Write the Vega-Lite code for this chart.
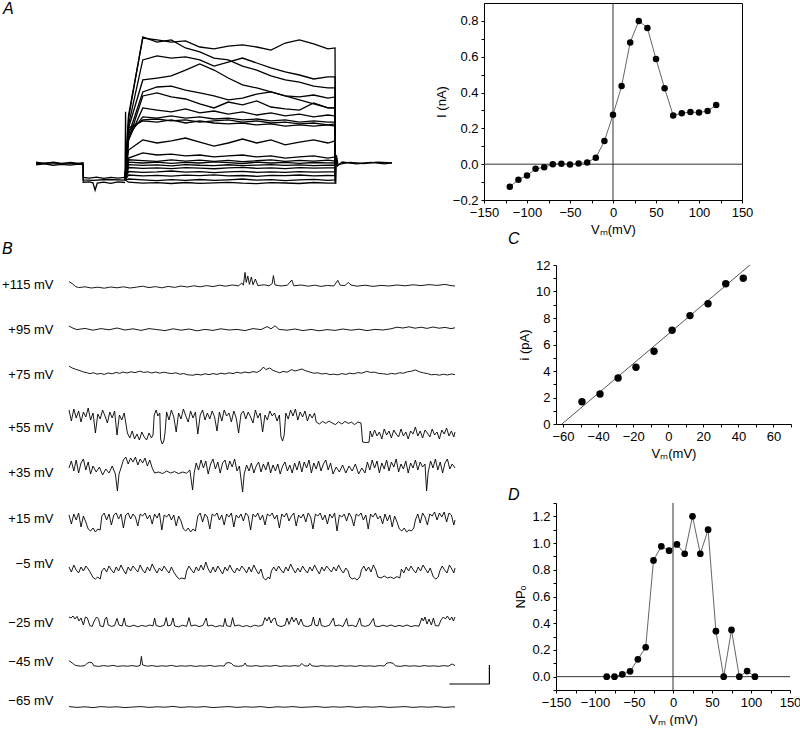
{
"$schema":"https://vega.github.io/schema/vega-lite/v6.json",
"padding":{"left":0,"top":1,"right":0,"bottom":0},
"config":{"font":"Liberation Sans","view":{"stroke":null},
"axis":{"labelFont":"Liberation Sans","titleFont":"Liberation Sans","labelFontSize":13,"titleFontSize":13,"titleFontWeight":"normal","labelColor":"#000","titleColor":"#000","domainColor":"#000","tickColor":"#000","grid":false,"tickSize":3,"labelFlush":false,"labelOverlap":false,"labelPadding":3},
"title":{"font":"Liberation Sans","fontSize":16,"fontStyle":"italic","fontWeight":"normal","anchor":"start","frame":"group","offset":4,"color":"#000"}},
"datasets":{
"ta":[
{"k":21,"t":0,"v":0.005},{"k":21,"t":12,"v":-0.003},{"k":21,"t":24,"v":0.006},{"k":21,"t":36,"v":-0.002},{"k":21,"t":48,"v":0.004},{"k":21,"t":60,"v":-0.003},{"k":21,"t":66,"v":0.002},{"k":21,"t":66.3,"v":-0.09},{"k":21,"t":75,"v":-0.094},{"k":21,"t":85,"v":-0.088},{"k":21,"t":95,"v":-0.096},{"k":21,"t":105,"v":-0.09},{"k":21,"t":115,"v":-0.095},{"k":21,"t":125,"v":-0.09},
{"k":22,"t":0,"v":-0.012},{"k":22,"t":12,"v":-0.006},{"k":22,"t":24,"v":-0.014},{"k":22,"t":36,"v":-0.008},{"k":22,"t":48,"v":-0.013},{"k":22,"t":60,"v":-0.007},{"k":22,"t":66,"v":-0.01},{"k":22,"t":66.3,"v":-0.12},{"k":22,"t":75,"v":-0.118},{"k":22,"t":80,"v":-0.124},{"k":22,"t":83,"v":-0.17},{"k":22,"t":86,"v":-0.125},{"k":22,"t":95,"v":-0.12},{"k":22,"t":105,"v":-0.127},{"k":22,"t":115,"v":-0.118},{"k":22,"t":125,"v":-0.122},
{"k":23,"t":0,"v":-0.004},{"k":23,"t":20,"v":0.001},{"k":23,"t":40,"v":-0.005},{"k":23,"t":66,"v":-0.002},{"k":23,"t":66.3,"v":-0.105},{"k":23,"t":80,"v":-0.108},{"k":23,"t":100,"v":-0.103},{"k":23,"t":125,"v":-0.107},
{"k":24,"t":420.5,"v":0},{"k":24,"t":421,"v":-0.13},{"k":24,"t":422,"v":0.05},{"k":24,"t":424,"v":-0.01},{"k":24,"t":440,"v":0.004},{"k":24,"t":460,"v":-0.003},{"k":24,"t":480,"v":0.005},{"k":24,"t":500,"v":0},
{"k":25,"t":420.5,"v":0.01},{"k":25,"t":423,"v":-0.02},{"k":25,"t":430,"v":0.006},{"k":25,"t":450,"v":-0.006},{"k":25,"t":470,"v":0.004},{"k":25,"t":490,"v":-0.005},{"k":25,"t":500,"v":0.002},
{"k":26,"t":125,"v":-0.1},{"k":26,"t":125.8,"v":0.32},{"k":26,"t":126.5,"v":-0.06},{"k":26,"t":127.5,"v":-0.02},
{"k":1,"t":125,"v":-0.105},{"k":1,"t":130,"v":0.3},{"k":1,"t":150,"v":0.781},{"k":1,"t":170,"v":0.769},{"k":1,"t":190,"v":0.756},{"k":1,"t":210,"v":0.763},{"k":1,"t":230,"v":0.725},{"k":1,"t":250,"v":0.713},{"k":1,"t":270,"v":0.731},{"k":1,"t":290,"v":0.738},{"k":1,"t":310,"v":0.725},{"k":1,"t":330,"v":0.706},{"k":1,"t":350,"v":0.75},{"k":1,"t":370,"v":0.769},{"k":1,"t":390,"v":0.744},{"k":1,"t":410,"v":0.713},{"k":1,"t":420,"v":0.719},{"k":1,"t":420.5,"v":0},
{"k":2,"t":125,"v":-0.105},{"k":2,"t":130,"v":0.281},{"k":2,"t":150,"v":0.788},{"k":2,"t":170,"v":0.756},{"k":2,"t":190,"v":0.769},{"k":2,"t":210,"v":0.719},{"k":2,"t":230,"v":0.694},{"k":2,"t":250,"v":0.656},{"k":2,"t":270,"v":0.644},{"k":2,"t":290,"v":0.606},{"k":2,"t":310,"v":0.581},{"k":2,"t":330,"v":0.544},{"k":2,"t":350,"v":0.519},{"k":2,"t":370,"v":0.506},{"k":2,"t":390,"v":0.481},{"k":2,"t":410,"v":0.469},{"k":2,"t":420,"v":0.469},{"k":2,"t":420.5,"v":0},
{"k":3,"t":125,"v":-0.105},{"k":3,"t":130,"v":0.238},{"k":3,"t":150,"v":0.644},{"k":3,"t":170,"v":0.669},{"k":3,"t":190,"v":0.656},{"k":3,"t":210,"v":0.663},{"k":3,"t":230,"v":0.644},{"k":3,"t":250,"v":0.606},{"k":3,"t":270,"v":0.631},{"k":3,"t":290,"v":0.656},{"k":3,"t":310,"v":0.625},{"k":3,"t":330,"v":0.594},{"k":3,"t":350,"v":0.569},{"k":3,"t":370,"v":0.55},{"k":3,"t":390,"v":0.525},{"k":3,"t":410,"v":0.538},{"k":3,"t":420,"v":0.538},{"k":3,"t":420.5,"v":0},
{"k":4,"t":125,"v":-0.105},{"k":4,"t":130,"v":0.219},{"k":4,"t":150,"v":0.519},{"k":4,"t":170,"v":0.531},{"k":4,"t":190,"v":0.544},{"k":4,"t":210,"v":0.581},{"k":4,"t":230,"v":0.619},{"k":4,"t":250,"v":0.581},{"k":4,"t":270,"v":0.531},{"k":4,"t":290,"v":0.488},{"k":4,"t":310,"v":0.469},{"k":4,"t":330,"v":0.444},{"k":4,"t":350,"v":0.419},{"k":4,"t":370,"v":0.394},{"k":4,"t":390,"v":0.369},{"k":4,"t":410,"v":0.344},{"k":4,"t":420,"v":0.344},{"k":4,"t":420.5,"v":0},
{"k":5,"t":125,"v":-0.105},{"k":5,"t":130,"v":0.175},{"k":5,"t":150,"v":0.444},{"k":5,"t":170,"v":0.475},{"k":5,"t":190,"v":0.481},{"k":5,"t":210,"v":0.456},{"k":5,"t":230,"v":0.438},{"k":5,"t":250,"v":0.419},{"k":5,"t":270,"v":0.394},{"k":5,"t":290,"v":0.406},{"k":5,"t":310,"v":0.431},{"k":5,"t":330,"v":0.444},{"k":5,"t":350,"v":0.419},{"k":5,"t":370,"v":0.413},{"k":5,"t":390,"v":0.425},{"k":5,"t":410,"v":0.406},{"k":5,"t":420,"v":0.413},{"k":5,"t":420.5,"v":0},
{"k":6,"t":125,"v":-0.105},{"k":6,"t":130,"v":0.144},{"k":6,"t":150,"v":0.419},{"k":6,"t":170,"v":0.438},{"k":6,"t":190,"v":0.413},{"k":6,"t":210,"v":0.4},{"k":6,"t":230,"v":0.369},{"k":6,"t":250,"v":0.344},{"k":6,"t":270,"v":0.381},{"k":6,"t":290,"v":0.363},{"k":6,"t":310,"v":0.388},{"k":6,"t":330,"v":0.35},{"k":6,"t":350,"v":0.338},{"k":6,"t":370,"v":0.331},{"k":6,"t":390,"v":0.375},{"k":6,"t":410,"v":0.344},{"k":6,"t":420,"v":0.344},{"k":6,"t":420.5,"v":0},
{"k":7,"t":125,"v":-0.105},{"k":7,"t":130,"v":0.144},{"k":7,"t":150,"v":0.344},{"k":7,"t":170,"v":0.331},{"k":7,"t":190,"v":0.319},{"k":7,"t":210,"v":0.338},{"k":7,"t":230,"v":0.313},{"k":7,"t":250,"v":0.325},{"k":7,"t":270,"v":0.306},{"k":7,"t":290,"v":0.319},{"k":7,"t":310,"v":0.3},{"k":7,"t":330,"v":0.313},{"k":7,"t":350,"v":0.294},{"k":7,"t":370,"v":0.306},{"k":7,"t":390,"v":0.288},{"k":7,"t":410,"v":0.3},{"k":7,"t":420,"v":0.294},{"k":7,"t":420.5,"v":0},
{"k":8,"t":125,"v":-0.105},{"k":8,"t":130,"v":0.175},{"k":8,"t":150,"v":0.288},{"k":8,"t":170,"v":0.281},{"k":8,"t":190,"v":0.294},{"k":8,"t":210,"v":0.281},{"k":8,"t":230,"v":0.288},{"k":8,"t":250,"v":0.275},{"k":8,"t":270,"v":0.281},{"k":8,"t":290,"v":0.269},{"k":8,"t":310,"v":0.275},{"k":8,"t":330,"v":0.263},{"k":8,"t":350,"v":0.269},{"k":8,"t":370,"v":0.256},{"k":8,"t":390,"v":0.263},{"k":8,"t":410,"v":0.256},{"k":8,"t":420,"v":0.256},{"k":8,"t":420.5,"v":0},
{"k":9,"t":125,"v":-0.105},{"k":9,"t":130,"v":0.206},{"k":9,"t":150,"v":0.269},{"k":9,"t":170,"v":0.275},{"k":9,"t":190,"v":0.263},{"k":9,"t":210,"v":0.269},{"k":9,"t":230,"v":0.256},{"k":9,"t":250,"v":0.263},{"k":9,"t":270,"v":0.269},{"k":9,"t":290,"v":0.256},{"k":9,"t":310,"v":0.263},{"k":9,"t":330,"v":0.25},{"k":9,"t":350,"v":0.256},{"k":9,"t":370,"v":0.244},{"k":9,"t":390,"v":0.25},{"k":9,"t":410,"v":0.238},{"k":9,"t":420,"v":0.244},{"k":9,"t":420.5,"v":0},
{"k":10,"t":125,"v":-0.105},{"k":10,"t":130,"v":0.219},{"k":10,"t":150,"v":0.263},{"k":10,"t":170,"v":0.256},{"k":10,"t":190,"v":0.269},{"k":10,"t":210,"v":0.25},{"k":10,"t":230,"v":0.263},{"k":10,"t":250,"v":0.25},{"k":10,"t":270,"v":0.244},{"k":10,"t":290,"v":0.25},{"k":10,"t":310,"v":0.238},{"k":10,"t":330,"v":0.244},{"k":10,"t":350,"v":0.231},{"k":10,"t":370,"v":0.238},{"k":10,"t":390,"v":0.231},{"k":10,"t":410,"v":0.238},{"k":10,"t":420,"v":0.231},{"k":10,"t":420.5,"v":0},
{"k":11,"t":125,"v":-0.105},{"k":11,"t":130,"v":0.081},{"k":11,"t":150,"v":0.144},{"k":11,"t":170,"v":0.125},{"k":11,"t":190,"v":0.138},{"k":11,"t":210,"v":0.156},{"k":11,"t":230,"v":0.131},{"k":11,"t":250,"v":0.106},{"k":11,"t":270,"v":0.125},{"k":11,"t":290,"v":0.15},{"k":11,"t":310,"v":0.125},{"k":11,"t":330,"v":0.144},{"k":11,"t":350,"v":0.113},{"k":11,"t":370,"v":0.131},{"k":11,"t":390,"v":0.144},{"k":11,"t":410,"v":0.125},{"k":11,"t":420,"v":0.138},{"k":11,"t":420.5,"v":0},
{"k":12,"t":125,"v":-0.105},{"k":12,"t":130,"v":0.031},{"k":12,"t":150,"v":0.063},{"k":12,"t":170,"v":0.05},{"k":12,"t":190,"v":0.056},{"k":12,"t":210,"v":0.044},{"k":12,"t":230,"v":0.05},{"k":12,"t":250,"v":0.038},{"k":12,"t":270,"v":0.044},{"k":12,"t":290,"v":0.05},{"k":12,"t":310,"v":0.038},{"k":12,"t":330,"v":0.044},{"k":12,"t":350,"v":0.031},{"k":12,"t":370,"v":0.038},{"k":12,"t":390,"v":0.044},{"k":12,"t":410,"v":0.031},{"k":12,"t":420,"v":0.038},{"k":12,"t":420.5,"v":0},
{"k":13,"t":125,"v":-0.105},{"k":13,"t":130,"v":0.02},{"k":13,"t":150,"v":0.015},{"k":13,"t":170,"v":0.01},{"k":13,"t":190,"v":0.02},{"k":13,"t":210,"v":0.012},{"k":13,"t":230,"v":0.018},{"k":13,"t":250,"v":0.01},{"k":13,"t":270,"v":0.016},{"k":13,"t":290,"v":0.008},{"k":13,"t":310,"v":0.014},{"k":13,"t":330,"v":0.02},{"k":13,"t":350,"v":0.01},{"k":13,"t":370,"v":0.016},{"k":13,"t":390,"v":0.012},{"k":13,"t":410,"v":0.018},{"k":13,"t":420,"v":0.012},{"k":13,"t":420.5,"v":0},
{"k":14,"t":125,"v":-0.105},{"k":14,"t":130,"v":0.005},{"k":14,"t":150,"v":0},{"k":14,"t":170,"v":0.006},{"k":14,"t":190,"v":-0.002},{"k":14,"t":210,"v":0.004},{"k":14,"t":230,"v":0},{"k":14,"t":250,"v":0.007},{"k":14,"t":270,"v":0.002},{"k":14,"t":290,"v":-0.003},{"k":14,"t":310,"v":0.005},{"k":14,"t":330,"v":0},{"k":14,"t":350,"v":0.004},{"k":14,"t":370,"v":-0.002},{"k":14,"t":390,"v":0.003},{"k":14,"t":410,"v":0.001},{"k":14,"t":420,"v":0},{"k":14,"t":420.5,"v":0},
{"k":15,"t":125,"v":-0.105},{"k":15,"t":130,"v":-0.01},{"k":15,"t":150,"v":-0.015},{"k":15,"t":170,"v":-0.012},{"k":15,"t":190,"v":-0.018},{"k":15,"t":210,"v":-0.01},{"k":15,"t":230,"v":-0.014},{"k":15,"t":250,"v":-0.016},{"k":15,"t":270,"v":-0.011},{"k":15,"t":290,"v":-0.017},{"k":15,"t":310,"v":-0.013},{"k":15,"t":330,"v":-0.01},{"k":15,"t":350,"v":-0.015},{"k":15,"t":370,"v":-0.012},{"k":15,"t":390,"v":-0.016},{"k":15,"t":410,"v":-0.013},{"k":15,"t":420,"v":-0.014},{"k":15,"t":420.5,"v":0},
{"k":16,"t":125,"v":-0.105},{"k":16,"t":130,"v":-0.028},{"k":16,"t":150,"v":-0.033},{"k":16,"t":170,"v":-0.03},{"k":16,"t":190,"v":-0.035},{"k":16,"t":210,"v":-0.029},{"k":16,"t":230,"v":-0.032},{"k":16,"t":250,"v":-0.036},{"k":16,"t":270,"v":-0.03},{"k":16,"t":290,"v":-0.027},{"k":16,"t":310,"v":-0.033},{"k":16,"t":330,"v":-0.031},{"k":16,"t":350,"v":-0.035},{"k":16,"t":370,"v":-0.029},{"k":16,"t":390,"v":-0.032},{"k":16,"t":410,"v":-0.03},{"k":16,"t":420,"v":-0.031},{"k":16,"t":420.5,"v":0},
{"k":17,"t":125,"v":-0.105},{"k":17,"t":130,"v":-0.053},{"k":17,"t":150,"v":-0.058},{"k":17,"t":170,"v":-0.055},{"k":17,"t":190,"v":-0.05},{"k":17,"t":210,"v":-0.057},{"k":17,"t":230,"v":-0.054},{"k":17,"t":250,"v":-0.06},{"k":17,"t":270,"v":-0.056},{"k":17,"t":290,"v":-0.052},{"k":17,"t":310,"v":-0.058},{"k":17,"t":330,"v":-0.055},{"k":17,"t":350,"v":-0.059},{"k":17,"t":370,"v":-0.054},{"k":17,"t":390,"v":-0.057},{"k":17,"t":410,"v":-0.055},{"k":17,"t":420,"v":-0.056},{"k":17,"t":420.5,"v":0},
{"k":18,"t":125,"v":-0.105},{"k":18,"t":130,"v":-0.075},{"k":18,"t":150,"v":-0.08},{"k":18,"t":170,"v":-0.077},{"k":18,"t":190,"v":-0.082},{"k":18,"t":210,"v":-0.076},{"k":18,"t":230,"v":-0.079},{"k":18,"t":250,"v":-0.074},{"k":18,"t":270,"v":-0.08},{"k":18,"t":290,"v":-0.078},{"k":18,"t":310,"v":-0.083},{"k":18,"t":330,"v":-0.077},{"k":18,"t":350,"v":-0.079},{"k":18,"t":370,"v":-0.075},{"k":18,"t":390,"v":-0.081},{"k":18,"t":410,"v":-0.078},{"k":18,"t":420,"v":-0.079},{"k":18,"t":420.5,"v":0},
{"k":19,"t":125,"v":-0.105},{"k":19,"t":130,"v":-0.1},{"k":19,"t":150,"v":-0.105},{"k":19,"t":170,"v":-0.11},{"k":19,"t":190,"v":-0.104},{"k":19,"t":210,"v":-0.108},{"k":19,"t":230,"v":-0.103},{"k":19,"t":250,"v":-0.109},{"k":19,"t":270,"v":-0.105},{"k":19,"t":290,"v":-0.1},{"k":19,"t":310,"v":-0.107},{"k":19,"t":330,"v":-0.104},{"k":19,"t":350,"v":-0.11},{"k":19,"t":370,"v":-0.106},{"k":19,"t":390,"v":-0.102},{"k":19,"t":410,"v":-0.108},{"k":19,"t":420,"v":-0.105},{"k":19,"t":420.5,"v":0},
{"k":20,"t":125,"v":-0.105},{"k":20,"t":130,"v":-0.12},{"k":20,"t":150,"v":-0.126},{"k":20,"t":170,"v":-0.123},{"k":20,"t":190,"v":-0.128},{"k":20,"t":210,"v":-0.122},{"k":20,"t":230,"v":-0.127},{"k":20,"t":250,"v":-0.124},{"k":20,"t":270,"v":-0.121},{"k":20,"t":290,"v":-0.126},{"k":20,"t":310,"v":-0.129},{"k":20,"t":330,"v":-0.123},{"k":20,"t":350,"v":-0.125},{"k":20,"t":370,"v":-0.128},{"k":20,"t":390,"v":-0.122},{"k":20,"t":410,"v":-0.126},{"k":20,"t":420,"v":-0.125},{"k":20,"t":420.5,"v":0}
],
"tb":[
{"k":1,"t":0,"v":1.2},{"k":1,"t":8,"v":0.2},{"k":1,"t":16,"v":-1.2},{"k":1,"t":24,"v":-1.8},{"k":1,"t":40,"v":-1.4},{"k":1,"t":56,"v":-2.0},{"k":1,"t":72,"v":-1.6},{"k":1,"t":88,"v":-2.1},{"k":1,"t":104,"v":-1.5},{"k":1,"t":120,"v":-1.9},{"k":1,"t":136,"v":-1.4},{"k":1,"t":152,"v":-2.0},{"k":1,"t":168,"v":-1.6},{"k":1,"t":184,"v":-1.1},{"k":1,"t":200,"v":-1.8},{"k":1,"t":216,"v":-1.3},{"k":1,"t":232,"v":-1.9},{"k":1,"t":248,"v":-1.2},{"k":1,"t":264,"v":-1.7},{"k":1,"t":280,"v":-1.0},{"k":1,"t":296,"v":-1.5},{"k":1,"t":312,"v":-0.9},{"k":1,"t":328,"v":-1.4},{"k":1,"t":344,"v":-0.8},{"k":1,"t":360,"v":-1.3},{"k":1,"t":376,"v":-0.6},{"k":1,"t":392,"v":-1.1},{"k":1,"t":408,"v":-0.5},{"k":1,"t":424,"v":-0.9},{"k":1,"t":432,"v":0.5},{"k":1,"t":436,"v":-0.6},{"k":1,"t":440,"v":5.8},{"k":1,"t":443,"v":0.8},{"k":1,"t":447,"v":4.0},{"k":1,"t":451,"v":-0.2},{"k":1,"t":456,"v":3.5},{"k":1,"t":460,"v":-0.4},{"k":1,"t":466,"v":2.5},{"k":1,"t":472,"v":-0.8},{"k":1,"t":488,"v":-0.4},{"k":1,"t":500,"v":-0.9},{"k":1,"t":508,"v":0.2},{"k":1,"t":511,"v":4.2},{"k":1,"t":515,"v":-0.5},{"k":1,"t":530,"v":-1.0},{"k":1,"t":546,"v":-0.6},{"k":1,"t":557,"v":2.0},{"k":1,"t":562,"v":-0.9},{"k":1,"t":580,"v":-0.5},{"k":1,"t":598,"v":-1.1},{"k":1,"t":614,"v":-0.6},{"k":1,"t":630,"v":-1.2},{"k":1,"t":646,"v":-0.7},{"k":1,"t":662,"v":-1.0},{"k":1,"t":672,"v":1.8},{"k":1,"t":678,"v":-0.6},{"k":1,"t":690,"v":-0.8},{"k":1,"t":698,"v":0.8},{"k":1,"t":705,"v":-0.5},{"k":1,"t":720,"v":-1.1},{"k":1,"t":740,"v":-0.6},{"k":1,"t":760,"v":-1.2},{"k":1,"t":780,"v":-0.7},{"k":1,"t":800,"v":-1.0},{"k":1,"t":820,"v":-0.5},{"k":1,"t":840,"v":-0.9},{"k":1,"t":860,"v":-0.4},{"k":1,"t":880,"v":-0.8},{"k":1,"t":900,"v":-0.3},{"k":1,"t":920,"v":-0.7},{"k":1,"t":940,"v":-0.2},{"k":1,"t":955,"v":-0.8},{"k":1,"t":965,"v":-1.0},
{"k":2,"t":0,"v":1.5},{"k":2,"t":10,"v":0.4},{"k":2,"t":20,"v":-0.3},{"k":2,"t":40,"v":0.3},{"k":2,"t":60,"v":-0.6},{"k":2,"t":80,"v":0.2},{"k":2,"t":100,"v":-0.4},{"k":2,"t":120,"v":0.5},{"k":2,"t":140,"v":-0.5},{"k":2,"t":160,"v":0.1},{"k":2,"t":180,"v":-0.7},{"k":2,"t":200,"v":0.2},{"k":2,"t":220,"v":-0.3},{"k":2,"t":240,"v":-0.8},{"k":2,"t":260,"v":0.1},{"k":2,"t":280,"v":-0.6},{"k":2,"t":300,"v":0.0},{"k":2,"t":320,"v":-0.9},{"k":2,"t":340,"v":-0.2},{"k":2,"t":360,"v":-0.7},{"k":2,"t":380,"v":0.1},{"k":2,"t":400,"v":-0.5},{"k":2,"t":420,"v":-0.2},{"k":2,"t":440,"v":-0.8},{"k":2,"t":460,"v":0.2},{"k":2,"t":480,"v":-0.3},{"k":2,"t":495,"v":1.2},{"k":2,"t":505,"v":0.1},{"k":2,"t":515,"v":1.6},{"k":2,"t":525,"v":-0.2},{"k":2,"t":545,"v":-0.6},{"k":2,"t":565,"v":0.0},{"k":2,"t":585,"v":-0.8},{"k":2,"t":605,"v":-0.2},{"k":2,"t":625,"v":-0.9},{"k":2,"t":645,"v":-0.3},{"k":2,"t":665,"v":-0.7},{"k":2,"t":685,"v":0.0},{"k":2,"t":705,"v":-0.6},{"k":2,"t":725,"v":-0.1},{"k":2,"t":745,"v":-0.8},{"k":2,"t":765,"v":-0.2},{"k":2,"t":785,"v":-0.5},{"k":2,"t":805,"v":0.1},{"k":2,"t":820,"v":0.9},{"k":2,"t":835,"v":0.5},{"k":2,"t":850,"v":1.1},{"k":2,"t":865,"v":0.4},{"k":2,"t":880,"v":0.9},{"k":2,"t":895,"v":0.3},{"k":2,"t":910,"v":1.0},{"k":2,"t":925,"v":0.4},{"k":2,"t":940,"v":0.8},{"k":2,"t":955,"v":0.2},{"k":2,"t":965,"v":0.6},
{"k":3,"t":0,"v":3.9},{"k":3,"t":8,"v":3.0},{"k":3,"t":16,"v":2.4},{"k":3,"t":27,"v":1.7},{"k":3,"t":36,"v":1.0},{"k":3,"t":44,"v":0.7},{"k":3,"t":52,"v":0.2},{"k":3,"t":62,"v":0.6},{"k":3,"t":70,"v":-0.1},{"k":3,"t":78,"v":0.3},{"k":3,"t":88,"v":-0.2},{"k":3,"t":98,"v":0.5},{"k":3,"t":108,"v":0.1},{"k":3,"t":118,"v":0.8},{"k":3,"t":127,"v":0.3},{"k":3,"t":135,"v":1.0},{"k":3,"t":145,"v":0.5},{"k":3,"t":155,"v":1.1},{"k":3,"t":165,"v":0.7},{"k":3,"t":177,"v":1.4},{"k":3,"t":187,"v":0.8},{"k":3,"t":197,"v":1.1},{"k":3,"t":207,"v":0.5},{"k":3,"t":217,"v":1.0},{"k":3,"t":227,"v":0.4},{"k":3,"t":237,"v":0.9},{"k":3,"t":247,"v":0.5},{"k":3,"t":257,"v":0.2},{"k":3,"t":267,"v":0.6},{"k":3,"t":277,"v":-0.1},{"k":3,"t":287,"v":0.2},{"k":3,"t":297,"v":-0.4},{"k":3,"t":310,"v":-0.6},{"k":3,"t":320,"v":-0.1},{"k":3,"t":330,"v":-0.5},{"k":3,"t":340,"v":0.1},{"k":3,"t":350,"v":-0.3},{"k":3,"t":360,"v":0.2},{"k":3,"t":370,"v":-0.2},{"k":3,"t":380,"v":0.4},{"k":3,"t":390,"v":0.0},{"k":3,"t":400,"v":0.6},{"k":3,"t":410,"v":0.2},{"k":3,"t":420,"v":0.9},{"k":3,"t":430,"v":0.4},{"k":3,"t":440,"v":1.0},{"k":3,"t":450,"v":0.6},{"k":3,"t":460,"v":1.2},{"k":3,"t":470,"v":0.8},{"k":3,"t":480,"v":2.0},{"k":3,"t":486,"v":3.5},{"k":3,"t":492,"v":2.2},{"k":3,"t":502,"v":3.0},{"k":3,"t":510,"v":1.8},{"k":3,"t":518,"v":1.2},{"k":3,"t":527,"v":0.6},{"k":3,"t":535,"v":1.3},{"k":3,"t":545,"v":0.9},{"k":3,"t":557,"v":2.2},{"k":3,"t":565,"v":1.5},{"k":3,"t":574,"v":2.0},{"k":3,"t":582,"v":2.5},{"k":3,"t":592,"v":1.6},{"k":3,"t":602,"v":1.0},{"k":3,"t":612,"v":0.4},{"k":3,"t":622,"v":0.6},{"k":3,"t":632,"v":0.0},{"k":3,"t":642,"v":0.3},{"k":3,"t":652,"v":-0.3},{"k":3,"t":662,"v":-0.1},{"k":3,"t":672,"v":-0.4},{"k":3,"t":682,"v":0.2},{"k":3,"t":692,"v":-0.2},{"k":3,"t":702,"v":0.4},{"k":3,"t":712,"v":0.1},{"k":3,"t":722,"v":0.7},{"k":3,"t":732,"v":0.4},{"k":3,"t":744,"v":1.3},{"k":3,"t":754,"v":0.8},{"k":3,"t":764,"v":0.9},{"k":3,"t":774,"v":0.3},{"k":3,"t":786,"v":0.1},{"k":3,"t":796,"v":-0.2},{"k":3,"t":806,"v":0.3},{"k":3,"t":816,"v":0.0},{"k":3,"t":826,"v":0.6},{"k":3,"t":836,"v":0.4},{"k":3,"t":846,"v":1.1},{"k":3,"t":856,"v":1.4},{"k":3,"t":866,"v":2.0},{"k":3,"t":876,"v":1.1},{"k":3,"t":886,"v":0.6},{"k":3,"t":896,"v":0.2},{"k":3,"t":906,"v":-0.4},{"k":3,"t":916,"v":-0.2},{"k":3,"t":926,"v":-0.6},{"k":3,"t":936,"v":-0.1},{"k":3,"t":946,"v":-0.5},{"k":3,"t":956,"v":0.0},{"k":3,"t":965,"v":-0.3},
{"k":4,"t":0,"v":8.5},{"k":4,"t":6,"v":3.0},{"k":4,"t":12,"v":9.0},{"k":4,"t":18,"v":4.5},{"k":4,"t":24,"v":8.0},{"k":4,"t":30,"v":2.5},{"k":4,"t":36,"v":7.5},{"k":4,"t":42,"v":5.0},{"k":4,"t":48,"v":9.5},{"k":4,"t":54,"v":3.5},{"k":4,"t":60,"v":7.0},{"k":4,"t":66,"v":-3.0},{"k":4,"t":72,"v":6.5},{"k":4,"t":78,"v":4.0},{"k":4,"t":84,"v":8.5},{"k":4,"t":90,"v":5.5},{"k":4,"t":96,"v":2.0},{"k":4,"t":102,"v":7.5},{"k":4,"t":108,"v":4.5},{"k":4,"t":114,"v":8.0},{"k":4,"t":120,"v":-4.0},{"k":4,"t":126,"v":6.0},{"k":4,"t":132,"v":3.5},{"k":4,"t":138,"v":7.0},{"k":4,"t":142,"v":2.0},{"k":4,"t":146,"v":-3.0},{"k":4,"t":152,"v":-5.5},{"k":4,"t":158,"v":-2.0},{"k":4,"t":164,"v":-6.0},{"k":4,"t":170,"v":-3.5},{"k":4,"t":176,"v":-6.5},{"k":4,"t":182,"v":-2.5},{"k":4,"t":188,"v":-5.0},{"k":4,"t":194,"v":-6.5},{"k":4,"t":200,"v":-3.0},{"k":4,"t":206,"v":-5.5},{"k":4,"t":210,"v":-4.0},{"k":4,"t":213,"v":6.0},{"k":4,"t":218,"v":8.5},{"k":4,"t":222,"v":5.5},{"k":4,"t":227,"v":7.0},{"k":4,"t":229,"v":-6.0},{"k":4,"t":233,"v":-8.5},{"k":4,"t":237,"v":-7.0},{"k":4,"t":240,"v":-3.0},{"k":4,"t":244,"v":7.5},{"k":4,"t":250,"v":3.5},{"k":4,"t":256,"v":8.5},{"k":4,"t":262,"v":5.0},{"k":4,"t":268,"v":-2.5},{"k":4,"t":274,"v":7.0},{"k":4,"t":280,"v":4.0},{"k":4,"t":286,"v":9.0},{"k":4,"t":292,"v":5.5},{"k":4,"t":298,"v":2.5},{"k":4,"t":304,"v":8.0},{"k":4,"t":310,"v":4.5},{"k":4,"t":316,"v":7.5},{"k":4,"t":322,"v":-3.5},{"k":4,"t":328,"v":6.0},{"k":4,"t":334,"v":8.5},{"k":4,"t":340,"v":3.5},{"k":4,"t":346,"v":7.0},{"k":4,"t":352,"v":4.0},{"k":4,"t":358,"v":8.0},{"k":4,"t":364,"v":5.0},{"k":4,"t":370,"v":-2.0},{"k":4,"t":376,"v":7.5},{"k":4,"t":382,"v":3.0},{"k":4,"t":388,"v":8.5},{"k":4,"t":394,"v":5.5},{"k":4,"t":400,"v":7.0},{"k":4,"t":406,"v":2.5},{"k":4,"t":412,"v":8.0},{"k":4,"t":418,"v":4.5},{"k":4,"t":424,"v":-3.0},{"k":4,"t":430,"v":6.5},{"k":4,"t":436,"v":8.0},{"k":4,"t":442,"v":4.0},{"k":4,"t":448,"v":7.5},{"k":4,"t":454,"v":5.0},{"k":4,"t":460,"v":2.0},{"k":4,"t":466,"v":8.5},{"k":4,"t":472,"v":4.5},{"k":4,"t":478,"v":7.0},{"k":4,"t":484,"v":-2.5},{"k":4,"t":490,"v":6.0},{"k":4,"t":496,"v":3.5},{"k":4,"t":502,"v":8.0},{"k":4,"t":508,"v":5.5},{"k":4,"t":514,"v":7.0},{"k":4,"t":520,"v":3.0},{"k":4,"t":526,"v":6.0},{"k":4,"t":530,"v":-5.0},{"k":4,"t":534,"v":-7.0},{"k":4,"t":538,"v":-4.0},{"k":4,"t":542,"v":7.0},{"k":4,"t":548,"v":4.0},{"k":4,"t":554,"v":8.5},{"k":4,"t":560,"v":5.5},{"k":4,"t":566,"v":9.0},{"k":4,"t":572,"v":3.5},{"k":4,"t":578,"v":7.5},{"k":4,"t":584,"v":5.0},{"k":4,"t":590,"v":8.0},{"k":4,"t":596,"v":3.0},{"k":4,"t":602,"v":6.5},{"k":4,"t":608,"v":4.5},{"k":4,"t":614,"v":7.0},{"k":4,"t":618,"v":2.5},{"k":4,"t":626,"v":1.5},{"k":4,"t":634,"v":2.8},{"k":4,"t":642,"v":1.8},{"k":4,"t":650,"v":3.0},{"k":4,"t":658,"v":2.0},{"k":4,"t":666,"v":1.2},{"k":4,"t":674,"v":2.6},{"k":4,"t":682,"v":1.5},{"k":4,"t":690,"v":2.8},{"k":4,"t":698,"v":1.8},{"k":4,"t":706,"v":2.4},{"k":4,"t":714,"v":1.2},{"k":4,"t":722,"v":2.5},{"k":4,"t":730,"v":2.0},{"k":4,"t":734,"v":-7.5},{"k":4,"t":742,"v":-7.8},{"k":4,"t":750,"v":-7.6},{"k":4,"t":753,"v":-2.0},{"k":4,"t":758,"v":-5.0},{"k":4,"t":764,"v":-1.5},{"k":4,"t":770,"v":-4.5},{"k":4,"t":776,"v":-2.5},{"k":4,"t":782,"v":-6.0},{"k":4,"t":788,"v":-1.0},{"k":4,"t":794,"v":-4.0},{"k":4,"t":800,"v":-2.0},{"k":4,"t":806,"v":-5.5},{"k":4,"t":812,"v":-1.5},{"k":4,"t":818,"v":-3.5},{"k":4,"t":824,"v":-5.0},{"k":4,"t":830,"v":-1.0},{"k":4,"t":836,"v":-4.5},{"k":4,"t":842,"v":-2.5},{"k":4,"t":848,"v":-6.0},{"k":4,"t":854,"v":-2.0},{"k":4,"t":860,"v":-3.5},{"k":4,"t":866,"v":0.0},{"k":4,"t":872,"v":-4.5},{"k":4,"t":878,"v":-2.0},{"k":4,"t":884,"v":-5.5},{"k":4,"t":890,"v":-1.5},{"k":4,"t":896,"v":-3.0},{"k":4,"t":902,"v":-5.0},{"k":4,"t":908,"v":-1.0},{"k":4,"t":914,"v":-4.0},{"k":4,"t":920,"v":-2.5},{"k":4,"t":926,"v":-6.0},{"k":4,"t":932,"v":-1.5},{"k":4,"t":938,"v":-3.5},{"k":4,"t":944,"v":-0.5},{"k":4,"t":950,"v":-4.5},{"k":4,"t":956,"v":-2.0},{"k":4,"t":962,"v":-5.0},{"k":4,"t":965,"v":-2.5},
{"k":5,"t":0,"v":2.0},{"k":5,"t":6,"v":5.5},{"k":5,"t":12,"v":0.5},{"k":5,"t":18,"v":6.0},{"k":5,"t":24,"v":-0.5},{"k":5,"t":30,"v":4.5},{"k":5,"t":36,"v":6.5},{"k":5,"t":42,"v":1.0},{"k":5,"t":48,"v":5.0},{"k":5,"t":54,"v":-1.0},{"k":5,"t":60,"v":3.0},{"k":5,"t":68,"v":0.0},{"k":5,"t":76,"v":2.5},{"k":5,"t":84,"v":-1.5},{"k":5,"t":92,"v":1.5},{"k":5,"t":100,"v":-0.5},{"k":5,"t":108,"v":3.0},{"k":5,"t":116,"v":-1.0},{"k":5,"t":121,"v":-9.5},{"k":5,"t":125,"v":-1.0},{"k":5,"t":130,"v":2.0},{"k":5,"t":136,"v":6.0},{"k":5,"t":142,"v":7.5},{"k":5,"t":148,"v":4.0},{"k":5,"t":154,"v":7.0},{"k":5,"t":160,"v":5.0},{"k":5,"t":166,"v":7.5},{"k":5,"t":172,"v":3.5},{"k":5,"t":178,"v":6.5},{"k":5,"t":184,"v":4.5},{"k":5,"t":190,"v":7.0},{"k":5,"t":196,"v":3.0},{"k":5,"t":202,"v":6.0},{"k":5,"t":208,"v":2.0},{"k":5,"t":214,"v":-0.5},{"k":5,"t":224,"v":0.0},{"k":5,"t":234,"v":-0.8},{"k":5,"t":244,"v":0.5},{"k":5,"t":254,"v":-0.5},{"k":5,"t":264,"v":0.2},{"k":5,"t":274,"v":-0.8},{"k":5,"t":284,"v":0.0},{"k":5,"t":294,"v":-0.6},{"k":5,"t":302,"v":1.0},{"k":5,"t":309,"v":-9.0},{"k":5,"t":313,"v":-0.5},{"k":5,"t":318,"v":4.5},{"k":5,"t":324,"v":1.0},{"k":5,"t":330,"v":6.0},{"k":5,"t":336,"v":2.0},{"k":5,"t":342,"v":5.5},{"k":5,"t":348,"v":-1.0},{"k":5,"t":354,"v":4.0},{"k":5,"t":360,"v":6.5},{"k":5,"t":366,"v":1.5},{"k":5,"t":372,"v":5.0},{"k":5,"t":378,"v":-0.5},{"k":5,"t":384,"v":4.5},{"k":5,"t":390,"v":6.0},{"k":5,"t":396,"v":1.0},{"k":5,"t":402,"v":5.5},{"k":5,"t":408,"v":2.5},{"k":5,"t":414,"v":6.5},{"k":5,"t":420,"v":0.5},{"k":5,"t":426,"v":3.0},{"k":5,"t":434,"v":-10.0},{"k":5,"t":438,"v":-1.0},{"k":5,"t":444,"v":3.5},{"k":5,"t":450,"v":0.5},{"k":5,"t":456,"v":4.5},{"k":5,"t":462,"v":-0.5},{"k":5,"t":468,"v":3.0},{"k":5,"t":474,"v":5.0},{"k":5,"t":480,"v":0.0},{"k":5,"t":486,"v":4.0},{"k":5,"t":492,"v":1.0},{"k":5,"t":498,"v":5.0},{"k":5,"t":504,"v":-0.5},{"k":5,"t":510,"v":3.5},{"k":5,"t":516,"v":0.5},{"k":5,"t":522,"v":4.0},{"k":5,"t":528,"v":-1.0},{"k":5,"t":534,"v":3.0},{"k":5,"t":540,"v":5.0},{"k":5,"t":546,"v":0.5},{"k":5,"t":552,"v":3.5},{"k":5,"t":558,"v":-0.5},{"k":5,"t":564,"v":4.5},{"k":5,"t":570,"v":1.0},{"k":5,"t":576,"v":5.5},{"k":5,"t":582,"v":0.0},{"k":5,"t":588,"v":5.0},{"k":5,"t":594,"v":2.0},{"k":5,"t":600,"v":6.0},{"k":5,"t":606,"v":-0.5},{"k":5,"t":612,"v":4.5},{"k":5,"t":618,"v":1.5},{"k":5,"t":624,"v":5.5},{"k":5,"t":630,"v":0.5},{"k":5,"t":636,"v":4.0},{"k":5,"t":642,"v":6.0},{"k":5,"t":648,"v":1.0},{"k":5,"t":654,"v":4.5},{"k":5,"t":660,"v":-1.0},{"k":5,"t":668,"v":2.5},{"k":5,"t":676,"v":0.0},{"k":5,"t":684,"v":3.5},{"k":5,"t":692,"v":-0.5},{"k":5,"t":700,"v":3.0},{"k":5,"t":708,"v":0.5},{"k":5,"t":716,"v":4.0},{"k":5,"t":724,"v":-1.0},{"k":5,"t":732,"v":2.0},{"k":5,"t":740,"v":-0.5},{"k":5,"t":746,"v":5.0},{"k":5,"t":752,"v":1.0},{"k":5,"t":758,"v":6.0},{"k":5,"t":764,"v":2.0},{"k":5,"t":770,"v":5.5},{"k":5,"t":776,"v":-0.5},{"k":5,"t":782,"v":4.5},{"k":5,"t":788,"v":1.5},{"k":5,"t":794,"v":6.0},{"k":5,"t":800,"v":0.5},{"k":5,"t":806,"v":5.0},{"k":5,"t":812,"v":2.5},{"k":5,"t":818,"v":6.5},{"k":5,"t":824,"v":0.0},{"k":5,"t":830,"v":4.0},{"k":5,"t":836,"v":1.5},{"k":5,"t":842,"v":5.5},{"k":5,"t":848,"v":-0.5},{"k":5,"t":854,"v":4.5},{"k":5,"t":860,"v":2.0},{"k":5,"t":866,"v":6.0},{"k":5,"t":872,"v":1.0},{"k":5,"t":878,"v":5.0},{"k":5,"t":884,"v":2.5},{"k":5,"t":890,"v":4.0},{"k":5,"t":894,"v":-9.5},{"k":5,"t":898,"v":0.0},{"k":5,"t":904,"v":5.5},{"k":5,"t":910,"v":2.0},{"k":5,"t":916,"v":6.5},{"k":5,"t":922,"v":1.0},{"k":5,"t":928,"v":5.0},{"k":5,"t":934,"v":-0.5},{"k":5,"t":940,"v":4.5},{"k":5,"t":946,"v":6.5},{"k":5,"t":952,"v":1.5},{"k":5,"t":958,"v":4.0},{"k":5,"t":965,"v":2.0},
{"k":6,"t":0,"v":1.5},{"k":6,"t":6,"v":-3.0},{"k":6,"t":12,"v":2.0},{"k":6,"t":18,"v":-1.0},{"k":6,"t":24,"v":2.5},{"k":6,"t":30,"v":-4.5},{"k":6,"t":36,"v":1.0},{"k":6,"t":42,"v":-2.0},{"k":6,"t":48,"v":-5.5},{"k":6,"t":54,"v":-6.5},{"k":6,"t":60,"v":-5.0},{"k":6,"t":66,"v":-7.0},{"k":6,"t":72,"v":-5.5},{"k":6,"t":78,"v":-6.0},{"k":6,"t":82,"v":1.0},{"k":6,"t":88,"v":2.5},{"k":6,"t":94,"v":-1.0},{"k":6,"t":100,"v":2.0},{"k":6,"t":106,"v":-3.5},{"k":6,"t":112,"v":1.5},{"k":6,"t":118,"v":2.5},{"k":6,"t":124,"v":-0.5},{"k":6,"t":130,"v":2.0},{"k":6,"t":136,"v":-5.0},{"k":6,"t":142,"v":1.5},{"k":6,"t":148,"v":2.5},{"k":6,"t":154,"v":-0.5},{"k":6,"t":160,"v":2.0},{"k":6,"t":166,"v":0.5},{"k":6,"t":172,"v":-4.0},{"k":6,"t":178,"v":2.0},{"k":6,"t":184,"v":1.0},{"k":6,"t":190,"v":2.5},{"k":6,"t":196,"v":-0.5},{"k":6,"t":202,"v":1.5},{"k":6,"t":208,"v":-3.0},{"k":6,"t":214,"v":2.0},{"k":6,"t":220,"v":0.0},{"k":6,"t":226,"v":2.5},{"k":6,"t":232,"v":-6.0},{"k":6,"t":238,"v":1.5},{"k":6,"t":244,"v":0.5},{"k":6,"t":250,"v":2.0},{"k":6,"t":256,"v":-1.0},{"k":6,"t":262,"v":1.5},{"k":6,"t":268,"v":-4.0},{"k":6,"t":274,"v":1.0},{"k":6,"t":280,"v":-1.5},{"k":6,"t":286,"v":-5.5},{"k":6,"t":292,"v":-6.5},{"k":6,"t":298,"v":-5.0},{"k":6,"t":304,"v":-7.0},{"k":6,"t":310,"v":-5.5},{"k":6,"t":316,"v":-6.5},{"k":6,"t":322,"v":1.0},{"k":6,"t":328,"v":2.5},{"k":6,"t":334,"v":-2.0},{"k":6,"t":340,"v":2.0},{"k":6,"t":346,"v":0.5},{"k":6,"t":352,"v":-5.5},{"k":6,"t":358,"v":2.0},{"k":6,"t":364,"v":1.0},{"k":6,"t":370,"v":2.5},{"k":6,"t":376,"v":-1.0},{"k":6,"t":382,"v":1.5},{"k":6,"t":388,"v":-3.5},{"k":6,"t":394,"v":2.0},{"k":6,"t":400,"v":0.5},{"k":6,"t":406,"v":2.5},{"k":6,"t":412,"v":-4.5},{"k":6,"t":418,"v":1.5},{"k":6,"t":424,"v":0.0},{"k":6,"t":430,"v":2.0},{"k":6,"t":436,"v":-1.5},{"k":6,"t":442,"v":2.5},{"k":6,"t":448,"v":1.0},{"k":6,"t":454,"v":-6.0},{"k":6,"t":460,"v":2.0},{"k":6,"t":466,"v":0.5},{"k":6,"t":472,"v":2.5},{"k":6,"t":478,"v":-1.0},{"k":6,"t":484,"v":1.5},{"k":6,"t":490,"v":-3.5},{"k":6,"t":496,"v":2.0},{"k":6,"t":502,"v":1.0},{"k":6,"t":508,"v":2.5},{"k":6,"t":514,"v":-0.5},{"k":6,"t":520,"v":1.5},{"k":6,"t":526,"v":-5.0},{"k":6,"t":532,"v":2.0},{"k":6,"t":538,"v":0.5},{"k":6,"t":544,"v":2.5},{"k":6,"t":550,"v":-1.5},{"k":6,"t":556,"v":1.0},{"k":6,"t":562,"v":2.5},{"k":6,"t":568,"v":-4.0},{"k":6,"t":574,"v":1.5},{"k":6,"t":580,"v":0.0},{"k":6,"t":586,"v":2.0},{"k":6,"t":592,"v":-2.0},{"k":6,"t":598,"v":2.5},{"k":6,"t":604,"v":0.5},{"k":6,"t":610,"v":-5.5},{"k":6,"t":616,"v":2.0},{"k":6,"t":622,"v":1.0},{"k":6,"t":628,"v":2.5},{"k":6,"t":634,"v":-1.0},{"k":6,"t":640,"v":1.5},{"k":6,"t":646,"v":-3.0},{"k":6,"t":652,"v":2.0},{"k":6,"t":658,"v":0.0},{"k":6,"t":664,"v":2.5},{"k":6,"t":670,"v":-6.5},{"k":6,"t":676,"v":1.5},{"k":6,"t":682,"v":0.5},{"k":6,"t":688,"v":2.0},{"k":6,"t":694,"v":-1.5},{"k":6,"t":700,"v":2.5},{"k":6,"t":706,"v":0.5},{"k":6,"t":712,"v":-4.0},{"k":6,"t":718,"v":2.0},{"k":6,"t":724,"v":1.0},{"k":6,"t":730,"v":2.5},{"k":6,"t":736,"v":-1.0},{"k":6,"t":742,"v":1.5},{"k":6,"t":748,"v":-5.5},{"k":6,"t":754,"v":2.0},{"k":6,"t":760,"v":0.5},{"k":6,"t":766,"v":2.5},{"k":6,"t":772,"v":-0.5},{"k":6,"t":778,"v":1.0},{"k":6,"t":784,"v":-3.0},{"k":6,"t":790,"v":2.0},{"k":6,"t":796,"v":-1.5},{"k":6,"t":802,"v":1.5},{"k":6,"t":808,"v":-4.5},{"k":6,"t":814,"v":1.0},{"k":6,"t":820,"v":-2.0},{"k":6,"t":826,"v":-5.5},{"k":6,"t":832,"v":-6.5},{"k":6,"t":838,"v":-5.0},{"k":6,"t":844,"v":-7.0},{"k":6,"t":850,"v":-6.0},{"k":6,"t":856,"v":-6.5},{"k":6,"t":862,"v":-5.0},{"k":6,"t":866,"v":-1.0},{"k":6,"t":872,"v":2.0},{"k":6,"t":878,"v":-2.5},{"k":6,"t":884,"v":2.5},{"k":6,"t":890,"v":0.5},{"k":6,"t":896,"v":-3.5},{"k":6,"t":902,"v":2.0},{"k":6,"t":908,"v":1.0},{"k":6,"t":914,"v":3.0},{"k":6,"t":920,"v":-1.0},{"k":6,"t":926,"v":2.5},{"k":6,"t":932,"v":0.5},{"k":6,"t":938,"v":3.0},{"k":6,"t":944,"v":-2.0},{"k":6,"t":950,"v":2.5},{"k":6,"t":956,"v":1.5},{"k":6,"t":962,"v":-3.5},{"k":6,"t":965,"v":-1.0},
{"k":7,"t":0,"v":-2.0},{"k":7,"t":6,"v":-4.5},{"k":7,"t":12,"v":-1.0},{"k":7,"t":18,"v":-3.5},{"k":7,"t":24,"v":-5.0},{"k":7,"t":30,"v":-2.0},{"k":7,"t":36,"v":-4.0},{"k":7,"t":42,"v":-1.5},{"k":7,"t":48,"v":-3.0},{"k":7,"t":54,"v":-5.0},{"k":7,"t":61,"v":-7.5},{"k":7,"t":66,"v":-8.0},{"k":7,"t":72,"v":-7.0},{"k":7,"t":78,"v":-8.0},{"k":7,"t":82,"v":-4.0},{"k":7,"t":88,"v":-2.5},{"k":7,"t":94,"v":-4.5},{"k":7,"t":100,"v":-1.5},{"k":7,"t":106,"v":-3.5},{"k":7,"t":112,"v":-5.0},{"k":7,"t":118,"v":-2.0},{"k":7,"t":124,"v":-4.0},{"k":7,"t":130,"v":-1.0},{"k":7,"t":136,"v":-3.5},{"k":7,"t":142,"v":-5.5},{"k":7,"t":148,"v":-2.0},{"k":7,"t":154,"v":-4.0},{"k":7,"t":160,"v":-1.5},{"k":7,"t":166,"v":-3.0},{"k":7,"t":172,"v":-4.5},{"k":7,"t":178,"v":-1.0},{"k":7,"t":184,"v":-3.5},{"k":7,"t":190,"v":-5.0},{"k":7,"t":196,"v":-2.0},{"k":7,"t":202,"v":-4.0},{"k":7,"t":208,"v":-0.5},{"k":7,"t":214,"v":-3.0},{"k":7,"t":220,"v":-5.0},{"k":7,"t":226,"v":-2.5},{"k":7,"t":232,"v":-4.0},{"k":7,"t":238,"v":-1.5},{"k":7,"t":244,"v":-3.5},{"k":7,"t":250,"v":-5.0},{"k":7,"t":256,"v":-2.0},{"k":7,"t":262,"v":-4.5},{"k":7,"t":270,"v":-7.0},{"k":7,"t":276,"v":-8.0},{"k":7,"t":282,"v":-7.5},{"k":7,"t":290,"v":-8.0},{"k":7,"t":294,"v":-4.0},{"k":7,"t":300,"v":-1.5},{"k":7,"t":306,"v":-3.5},{"k":7,"t":312,"v":-5.0},{"k":7,"t":318,"v":-2.0},{"k":7,"t":324,"v":-4.0},{"k":7,"t":330,"v":-1.0},{"k":7,"t":336,"v":-3.5},{"k":7,"t":342,"v":0.5},{"k":7,"t":348,"v":-3.0},{"k":7,"t":354,"v":-5.0},{"k":7,"t":360,"v":-2.0},{"k":7,"t":366,"v":-4.5},{"k":7,"t":372,"v":-1.5},{"k":7,"t":378,"v":-3.5},{"k":7,"t":384,"v":-5.5},{"k":7,"t":390,"v":-2.0},{"k":7,"t":396,"v":-4.0},{"k":7,"t":402,"v":-1.0},{"k":7,"t":408,"v":-3.5},{"k":7,"t":414,"v":-5.0},{"k":7,"t":420,"v":-2.5},{"k":7,"t":426,"v":-4.0},{"k":7,"t":432,"v":-1.5},{"k":7,"t":438,"v":-3.0},{"k":7,"t":444,"v":-5.0},{"k":7,"t":450,"v":-2.0},{"k":7,"t":456,"v":-4.5},{"k":7,"t":462,"v":-1.0},{"k":7,"t":468,"v":-3.5},{"k":7,"t":474,"v":-5.5},{"k":7,"t":480,"v":-3.0},{"k":7,"t":486,"v":-7.5},{"k":7,"t":492,"v":-8.5},{"k":7,"t":498,"v":-7.0},{"k":7,"t":502,"v":-8.0},{"k":7,"t":506,"v":-4.0},{"k":7,"t":512,"v":-2.0},{"k":7,"t":518,"v":-4.0},{"k":7,"t":524,"v":-1.5},{"k":7,"t":530,"v":-3.5},{"k":7,"t":536,"v":-5.0},{"k":7,"t":542,"v":-2.0},{"k":7,"t":548,"v":-4.0},{"k":7,"t":554,"v":-0.5},{"k":7,"t":560,"v":-3.0},{"k":7,"t":566,"v":-5.0},{"k":7,"t":572,"v":-2.5},{"k":7,"t":578,"v":-4.5},{"k":7,"t":584,"v":-1.5},{"k":7,"t":590,"v":-3.5},{"k":7,"t":596,"v":-5.0},{"k":7,"t":602,"v":-2.0},{"k":7,"t":608,"v":-4.0},{"k":7,"t":614,"v":-1.0},{"k":7,"t":620,"v":-3.5},{"k":7,"t":626,"v":-5.5},{"k":7,"t":632,"v":-2.0},{"k":7,"t":638,"v":-4.0},{"k":7,"t":644,"v":-1.5},{"k":7,"t":650,"v":-3.0},{"k":7,"t":656,"v":-4.5},{"k":7,"t":662,"v":-2.0},{"k":7,"t":668,"v":-4.0},{"k":7,"t":674,"v":-1.0},{"k":7,"t":680,"v":-3.5},{"k":7,"t":686,"v":-5.0},{"k":7,"t":692,"v":-2.5},{"k":7,"t":698,"v":-4.0},{"k":7,"t":702,"v":-7.0},{"k":7,"t":708,"v":-8.0},{"k":7,"t":714,"v":-7.5},{"k":7,"t":720,"v":-8.5},{"k":7,"t":727,"v":-7.0},{"k":7,"t":731,"v":-3.5},{"k":7,"t":737,"v":-1.5},{"k":7,"t":743,"v":-4.0},{"k":7,"t":749,"v":-2.0},{"k":7,"t":755,"v":-4.5},{"k":7,"t":761,"v":-1.0},{"k":7,"t":767,"v":-3.5},{"k":7,"t":772,"v":-7.0},{"k":7,"t":780,"v":-7.5},{"k":7,"t":788,"v":-6.5},{"k":7,"t":796,"v":-7.5},{"k":7,"t":804,"v":-7.0},{"k":7,"t":812,"v":-7.8},{"k":7,"t":820,"v":-6.8},{"k":7,"t":827,"v":-7.5},{"k":7,"t":831,"v":-3.0},{"k":7,"t":837,"v":-5.0},{"k":7,"t":843,"v":-2.0},{"k":7,"t":849,"v":-4.0},{"k":7,"t":855,"v":-1.5},{"k":7,"t":861,"v":-3.5},{"k":7,"t":867,"v":-5.0},{"k":7,"t":873,"v":-2.0},{"k":7,"t":879,"v":-4.0},{"k":7,"t":885,"v":-1.0},{"k":7,"t":891,"v":-3.0},{"k":7,"t":897,"v":-5.0},{"k":7,"t":903,"v":-2.5},{"k":7,"t":911,"v":-7.0},{"k":7,"t":917,"v":-8.0},{"k":7,"t":923,"v":-7.0},{"k":7,"t":927,"v":-4.0},{"k":7,"t":933,"v":-1.5},{"k":7,"t":939,"v":-3.5},{"k":7,"t":945,"v":-5.0},{"k":7,"t":951,"v":-1.0},{"k":7,"t":957,"v":-3.0},{"k":7,"t":962,"v":-5.0},{"k":7,"t":965,"v":-2.5},
{"k":8,"t":0,"v":2.5},{"k":8,"t":5,"v":2.0},{"k":8,"t":10,"v":3.0},{"k":8,"t":15,"v":1.5},{"k":8,"t":20,"v":2.8},{"k":8,"t":25,"v":0.5},{"k":8,"t":30,"v":2.0},{"k":8,"t":36,"v":-1.5},{"k":8,"t":41,"v":2.5},{"k":8,"t":46,"v":2.0},{"k":8,"t":52,"v":-1.8},{"k":8,"t":58,"v":-2.2},{"k":8,"t":63,"v":0.5},{"k":8,"t":69,"v":2.5},{"k":8,"t":74,"v":1.5},{"k":8,"t":78,"v":-2.0},{"k":8,"t":86,"v":-2.3},{"k":8,"t":90,"v":1.5},{"k":8,"t":94,"v":2.5},{"k":8,"t":98,"v":-1.5},{"k":8,"t":106,"v":-2.2},{"k":8,"t":114,"v":-1.8},{"k":8,"t":120,"v":1.8},{"k":8,"t":125,"v":-1.5},{"k":8,"t":133,"v":-2.0},{"k":8,"t":138,"v":2.0},{"k":8,"t":142,"v":-1.8},{"k":8,"t":152,"v":-2.3},{"k":8,"t":162,"v":-1.6},{"k":8,"t":172,"v":-2.4},{"k":8,"t":182,"v":-1.7},{"k":8,"t":192,"v":-2.2},{"k":8,"t":202,"v":-1.5},{"k":8,"t":210,"v":-2.0},{"k":8,"t":214,"v":2.0},{"k":8,"t":218,"v":-1.8},{"k":8,"t":228,"v":-2.3},{"k":8,"t":238,"v":-1.6},{"k":8,"t":243,"v":2.2},{"k":8,"t":247,"v":-2.0},{"k":8,"t":255,"v":-1.5},{"k":8,"t":260,"v":2.0},{"k":8,"t":264,"v":-2.0},{"k":8,"t":274,"v":-2.4},{"k":8,"t":284,"v":-1.6},{"k":8,"t":294,"v":-2.2},{"k":8,"t":300,"v":2.2},{"k":8,"t":305,"v":-2.0},{"k":8,"t":315,"v":-1.5},{"k":8,"t":325,"v":-2.3},{"k":8,"t":335,"v":-1.7},{"k":8,"t":343,"v":2.0},{"k":8,"t":347,"v":-2.0},{"k":8,"t":357,"v":-1.6},{"k":8,"t":367,"v":-2.4},{"k":8,"t":377,"v":-1.8},{"k":8,"t":386,"v":-2.2},{"k":8,"t":390,"v":1.8},{"k":8,"t":394,"v":-1.8},{"k":8,"t":404,"v":-2.3},{"k":8,"t":409,"v":2.2},{"k":8,"t":414,"v":-2.0},{"k":8,"t":424,"v":-1.5},{"k":8,"t":434,"v":-2.3},{"k":8,"t":444,"v":-1.8},{"k":8,"t":454,"v":-2.4},{"k":8,"t":464,"v":-1.6},{"k":8,"t":474,"v":-2.1},{"k":8,"t":484,"v":-1.5},{"k":8,"t":490,"v":2.2},{"k":8,"t":495,"v":0.5},{"k":8,"t":500,"v":2.5},{"k":8,"t":505,"v":-0.5},{"k":8,"t":510,"v":1.5},{"k":8,"t":515,"v":2.0},{"k":8,"t":520,"v":-1.5},{"k":8,"t":530,"v":-2.3},{"k":8,"t":540,"v":-1.6},{"k":8,"t":545,"v":2.0},{"k":8,"t":550,"v":-1.2},{"k":8,"t":557,"v":2.5},{"k":8,"t":562,"v":0.0},{"k":8,"t":568,"v":2.0},{"k":8,"t":574,"v":-1.5},{"k":8,"t":580,"v":1.5},{"k":8,"t":586,"v":-1.8},{"k":8,"t":596,"v":-2.3},{"k":8,"t":606,"v":-1.6},{"k":8,"t":611,"v":2.5},{"k":8,"t":615,"v":-1.5},{"k":8,"t":622,"v":-2.0},{"k":8,"t":627,"v":2.0},{"k":8,"t":631,"v":-1.8},{"k":8,"t":641,"v":-2.3},{"k":8,"t":651,"v":-1.6},{"k":8,"t":661,"v":2.0},{"k":8,"t":665,"v":-2.0},{"k":8,"t":675,"v":-1.5},{"k":8,"t":685,"v":-2.3},{"k":8,"t":694,"v":1.8},{"k":8,"t":698,"v":-2.0},{"k":8,"t":708,"v":-1.6},{"k":8,"t":718,"v":-2.4},{"k":8,"t":727,"v":2.0},{"k":8,"t":731,"v":-1.8},{"k":8,"t":741,"v":-2.2},{"k":8,"t":751,"v":-1.5},{"k":8,"t":761,"v":1.8},{"k":8,"t":765,"v":-2.0},{"k":8,"t":775,"v":-2.3},{"k":8,"t":785,"v":-1.6},{"k":8,"t":795,"v":-2.2},{"k":8,"t":805,"v":-1.5},{"k":8,"t":815,"v":-2.3},{"k":8,"t":825,"v":-1.7},{"k":8,"t":835,"v":-2.2},{"k":8,"t":845,"v":-1.5},{"k":8,"t":855,"v":-2.3},{"k":8,"t":865,"v":-1.8},{"k":8,"t":875,"v":-2.1},{"k":8,"t":882,"v":2.0},{"k":8,"t":886,"v":0.5},{"k":8,"t":890,"v":2.5},{"k":8,"t":895,"v":-1.0},{"k":8,"t":900,"v":1.5},{"k":8,"t":906,"v":-1.5},{"k":8,"t":911,"v":2.0},{"k":8,"t":916,"v":-1.8},{"k":8,"t":924,"v":-2.0},{"k":8,"t":930,"v":1.0},{"k":8,"t":936,"v":2.5},{"k":8,"t":941,"v":1.5},{"k":8,"t":946,"v":3.0},{"k":8,"t":952,"v":1.0},{"k":8,"t":957,"v":2.5},{"k":8,"t":961,"v":0.5},{"k":8,"t":965,"v":2.5},
{"k":9,"t":0,"v":0.2},{"k":9,"t":8,"v":-1.0},{"k":9,"t":16,"v":-2.2},{"k":9,"t":28,"v":-2.6},{"k":9,"t":40,"v":-2.3},{"k":9,"t":46,"v":-1.0},{"k":9,"t":52,"v":-0.6},{"k":9,"t":58,"v":-0.9},{"k":9,"t":62,"v":-2.4},{"k":9,"t":74,"v":-2.7},{"k":9,"t":86,"v":-2.3},{"k":9,"t":98,"v":-2.6},{"k":9,"t":110,"v":-2.2},{"k":9,"t":122,"v":-2.7},{"k":9,"t":134,"v":-2.4},{"k":9,"t":146,"v":-2.6},{"k":9,"t":158,"v":-2.3},{"k":9,"t":170,"v":-2.7},{"k":9,"t":178,"v":-2.2},{"k":9,"t":181,"v":2.3},{"k":9,"t":184,"v":-2.0},{"k":9,"t":196,"v":-2.6},{"k":9,"t":208,"v":-2.3},{"k":9,"t":220,"v":-2.7},{"k":9,"t":232,"v":-2.4},{"k":9,"t":244,"v":-2.6},{"k":9,"t":256,"v":-2.2},{"k":9,"t":268,"v":-2.7},{"k":9,"t":280,"v":-2.4},{"k":9,"t":292,"v":-2.6},{"k":9,"t":304,"v":-2.3},{"k":9,"t":316,"v":-2.7},{"k":9,"t":328,"v":-2.4},{"k":9,"t":340,"v":-2.6},{"k":9,"t":352,"v":-2.2},{"k":9,"t":364,"v":-2.7},{"k":9,"t":376,"v":-2.4},{"k":9,"t":388,"v":-2.5},{"k":9,"t":393,"v":-1.0},{"k":9,"t":400,"v":-0.8},{"k":9,"t":406,"v":-1.2},{"k":9,"t":412,"v":-2.4},{"k":9,"t":424,"v":-2.7},{"k":9,"t":436,"v":-2.3},{"k":9,"t":440,"v":-1.0},{"k":9,"t":444,"v":-2.4},{"k":9,"t":456,"v":-2.6},{"k":9,"t":468,"v":-2.3},{"k":9,"t":480,"v":-2.7},{"k":9,"t":492,"v":-2.4},{"k":9,"t":504,"v":-2.6},{"k":9,"t":516,"v":-2.2},{"k":9,"t":528,"v":-2.7},{"k":9,"t":540,"v":-2.4},{"k":9,"t":552,"v":-2.6},{"k":9,"t":564,"v":-2.3},{"k":9,"t":576,"v":-2.6},{"k":9,"t":582,"v":-1.2},{"k":9,"t":588,"v":-2.4},{"k":9,"t":598,"v":-2.5},{"k":9,"t":602,"v":-1.2},{"k":9,"t":607,"v":-2.4},{"k":9,"t":620,"v":-2.7},{"k":9,"t":632,"v":-2.3},{"k":9,"t":644,"v":-2.6},{"k":9,"t":656,"v":-2.4},{"k":9,"t":668,"v":-2.7},{"k":9,"t":680,"v":-2.3},{"k":9,"t":692,"v":-2.6},{"k":9,"t":704,"v":-2.4},{"k":9,"t":716,"v":-2.7},{"k":9,"t":728,"v":-2.3},{"k":9,"t":740,"v":-2.6},{"k":9,"t":752,"v":-2.4},{"k":9,"t":764,"v":-2.7},{"k":9,"t":776,"v":-2.3},{"k":9,"t":788,"v":-2.5},{"k":9,"t":795,"v":-1.0},{"k":9,"t":802,"v":-0.8},{"k":9,"t":810,"v":-1.1},{"k":9,"t":816,"v":-2.4},{"k":9,"t":828,"v":-2.7},{"k":9,"t":840,"v":-2.3},{"k":9,"t":852,"v":-2.6},{"k":9,"t":864,"v":-2.4},{"k":9,"t":876,"v":-2.7},{"k":9,"t":888,"v":-2.3},{"k":9,"t":900,"v":-2.6},{"k":9,"t":912,"v":-2.4},{"k":9,"t":924,"v":-2.7},{"k":9,"t":936,"v":-2.3},{"k":9,"t":948,"v":-2.6},{"k":9,"t":958,"v":-1.5},{"k":9,"t":965,"v":-2.3},
{"k":10,"t":0,"v":-3.3},{"k":10,"t":20,"v":-3.7},{"k":10,"t":40,"v":-3.4},{"k":10,"t":60,"v":-3.8},{"k":10,"t":80,"v":-3.3},{"k":10,"t":100,"v":-3.6},{"k":10,"t":120,"v":-3.4},{"k":10,"t":140,"v":-3.8},{"k":10,"t":160,"v":-3.5},{"k":10,"t":180,"v":-3.3},{"k":10,"t":200,"v":-3.7},{"k":10,"t":220,"v":-3.4},{"k":10,"t":240,"v":-3.6},{"k":10,"t":260,"v":-3.2},{"k":10,"t":280,"v":-3.7},{"k":10,"t":300,"v":-3.4},{"k":10,"t":320,"v":-3.6},{"k":10,"t":340,"v":-3.3},{"k":10,"t":360,"v":-3.8},{"k":10,"t":380,"v":-3.5},{"k":10,"t":400,"v":-3.3},{"k":10,"t":420,"v":-3.7},{"k":10,"t":440,"v":-3.4},{"k":10,"t":460,"v":-3.6},{"k":10,"t":480,"v":-3.3},{"k":10,"t":500,"v":-3.8},{"k":10,"t":520,"v":-3.4},{"k":10,"t":540,"v":-3.6},{"k":10,"t":560,"v":-3.3},{"k":10,"t":580,"v":-3.7},{"k":10,"t":600,"v":-3.5},{"k":10,"t":620,"v":-3.3},{"k":10,"t":640,"v":-3.7},{"k":10,"t":660,"v":-3.4},{"k":10,"t":680,"v":-3.6},{"k":10,"t":700,"v":-3.3},{"k":10,"t":720,"v":-3.7},{"k":10,"t":740,"v":-3.4},{"k":10,"t":760,"v":-3.6},{"k":10,"t":780,"v":-3.3},{"k":10,"t":800,"v":-3.7},{"k":10,"t":820,"v":-3.5},{"k":10,"t":840,"v":-3.3},{"k":10,"t":860,"v":-3.7},{"k":10,"t":880,"v":-3.4},{"k":10,"t":900,"v":-3.6},{"k":10,"t":920,"v":-3.3},{"k":10,"t":940,"v":-3.7},{"k":10,"t":960,"v":-3.4},{"k":10,"t":965,"v":-3.5}
],
"iv":[{"V":-120,"I":-0.126},{"V":-110,"I":-0.087},{"V":-100,"I":-0.063},{"V":-90,"I":-0.026},{"V":-80,"I":-0.017},{"V":-70,"I":0.0},{"V":-60,"I":0.002},{"V":-50,"I":-0.002},{"V":-40,"I":0.004},{"V":-30,"I":0.01},{"V":-20,"I":0.036},{"V":-10,"I":0.129},{"V":0,"I":0.276},{"V":10,"I":0.436},{"V":20,"I":0.68},{"V":30,"I":0.8},{"V":40,"I":0.761},{"V":50,"I":0.587},{"V":60,"I":0.424},{"V":70,"I":0.272},{"V":80,"I":0.285},{"V":90,"I":0.291},{"V":100,"I":0.288},{"V":110,"I":0.297},{"V":120,"I":0.33}],
"ch":[{"V":-49.2,"i":1.68},{"V":-38.9,"i":2.26},{"V":-28.6,"i":3.47},{"V":-18.4,"i":4.28},{"V":-8.1,"i":5.49},{"V":2.2,"i":7.07},{"V":12.4,"i":8.18},{"V":22.7,"i":9.08},{"V":32.8,"i":10.59},{"V":42.8,"i":11.0}],
"np":[{"V":-85,"P":0},{"V":-75,"P":0},{"V":-65,"P":0.017},{"V":-55,"P":0.04},{"V":-45,"P":0.13},{"V":-35,"P":0.22},{"V":-25,"P":0.87},{"V":-15,"P":0.976},{"V":-5,"P":0.943},{"V":5,"P":0.99},{"V":15,"P":0.92},{"V":25,"P":1.2},{"V":35,"P":0.92},{"V":45,"P":1.1},{"V":55,"P":0.34},{"V":65,"P":0},{"V":75,"P":0.35},{"V":85,"P":0},{"V":95,"P":0.042},{"V":105,"P":0}]
},
"spacing":-6,"bounds":"full",
"vconcat":[
{"hconcat":[
 {"width":420,"height":220,"title":{"text":"A","dx":3,"dy":18},
  "data":{"name":"ta"},
  "mark":{"type":"line","color":"#000","strokeWidth":1.3,"clip":true},
  "encoding":{"x":{"field":"t","type":"quantitative","scale":{"domain":[-50.56,539.33],"nice":false},"axis":null},
   "y":{"field":"v","type":"quantitative","scale":{"domain":[-0.375,1.0],"nice":false},"axis":null},
   "detail":{"field":"k","type":"nominal"}}},
 {"width":258,"height":197,"view":{"stroke":"#000","strokeWidth":1},
  "resolve":{"axis":{"x":"independent","y":"independent"}},
  "layer":[
   {"data":{"values":[{"z":0}]},"mark":{"type":"rule","color":"#333","strokeWidth":1},"encoding":{"x":{"field":"z","type":"quantitative","scale":{"domain":[-150,150],"nice":false},"axis":null}}},
   {"data":{"values":[{"z":0}]},"mark":{"type":"rule","color":"#333","strokeWidth":1},"encoding":{"y":{"field":"z","type":"quantitative","scale":{"domain":[-0.2,0.9],"nice":false},"axis":null}}},
   {"data":{"name":"iv"},"mark":{"type":"line","color":"#666","strokeWidth":1},
    "encoding":{"x":{"field":"V","type":"quantitative","scale":{"domain":[-150,150],"nice":false},"axis":{"orient":"bottom","title":"V\u2098(mV)","values":[-150,-100,-50,0,50,100,150],"labelOverlap":false,"labelFlush":false}},
     "y":{"field":"I","type":"quantitative","scale":{"domain":[-0.2,0.9],"nice":false},"axis":{"orient":"left","title":"I (nA)","values":[-0.2,0,0.2,0.4,0.6,0.8],"format":".1f","labelOverlap":false}}}},
   {"data":{"name":"iv"},"mark":{"type":"circle","color":"#000","size":42,"opacity":1},
    "encoding":{"x":{"field":"V","type":"quantitative","scale":{"domain":[-150,150],"nice":false},"axis":{"orient":"bottom","title":null,"values":[-125,-75,-25,25,75,125],"labels":false,"domain":false}},
     "y":{"field":"I","type":"quantitative","scale":{"domain":[-0.2,0.9],"nice":false},"axis":{"orient":"left","title":null,"values":[-0.1,0.1,0.3,0.5,0.7],"labels":false,"domain":false}}}}
  ]}
 ],"spacing":64,"bounds":"flush"},
{"concat":[
 {"width":500,"height":238,"title":{"text":"B","dx":2,"dy":-4},
  "resolve":{"scale":{"y":"independent"},"axis":{"y":"independent"}},
  "layer":[
   {"data":{"name":"tb"},"transform":[{"filter":"datum.k===1"}],"mark":{"type":"line","color":"#000","strokeWidth":0.9},
    "encoding":{"x":{"field":"t","type":"quantitative","scale":{"domain":[-172.5,1077.5],"nice":false},"axis":null},"y":{"field":"v","type":"quantitative","scale":{"domain":[-109.5,9.5],"nice":false},"axis":{"orient":"left","title":"+115 mV","domain":false,"ticks":false,"labels":false,"titleAngle":0,"titleAlign":"right","titleBaseline":"middle","titleX":53,"titleY":19}}}},
   {"data":{"name":"tb"},"transform":[{"filter":"datum.k===2"}],"mark":{"type":"line","color":"#000","strokeWidth":0.9},
    "encoding":{"x":{"field":"t","type":"quantitative","scale":{"domain":[-172.5,1077.5],"nice":false},"axis":null},"y":{"field":"v","type":"quantitative","scale":{"domain":[-87,32],"nice":false},"axis":{"orient":"left","title":"+95 mV","domain":false,"ticks":false,"labels":false,"titleAngle":0,"titleAlign":"right","titleBaseline":"middle","titleX":53,"titleY":64}}}},
   {"data":{"name":"tb"},"transform":[{"filter":"datum.k===3"}],"mark":{"type":"line","color":"#000","strokeWidth":0.9},
    "encoding":{"x":{"field":"t","type":"quantitative","scale":{"domain":[-172.5,1077.5],"nice":false},"axis":null},"y":{"field":"v","type":"quantitative","scale":{"domain":[-64.5,54.5],"nice":false},"axis":{"orient":"left","title":"+75 mV","domain":false,"ticks":false,"labels":false,"titleAngle":0,"titleAlign":"right","titleBaseline":"middle","titleX":53,"titleY":109}}}},
   {"data":{"name":"tb"},"transform":[{"filter":"datum.k===4"}],"mark":{"type":"line","color":"#000","strokeWidth":0.9},
    "encoding":{"x":{"field":"t","type":"quantitative","scale":{"domain":[-172.5,1077.5],"nice":false},"axis":null},"y":{"field":"v","type":"quantitative","scale":{"domain":[-38,81],"nice":false},"axis":{"orient":"left","title":"+55 mV","domain":false,"ticks":false,"labels":false,"titleAngle":0,"titleAlign":"right","titleBaseline":"middle","titleX":53,"titleY":162}}}},
   {"data":{"name":"tb"},"transform":[{"filter":"datum.k===5"}],"mark":{"type":"line","color":"#000","strokeWidth":0.9},
    "encoding":{"x":{"field":"t","type":"quantitative","scale":{"domain":[-172.5,1077.5],"nice":false},"axis":null},"y":{"field":"v","type":"quantitative","scale":{"domain":[-15.5,103.5],"nice":false},"axis":{"orient":"left","title":"+35 mV","domain":false,"ticks":false,"labels":false,"titleAngle":0,"titleAlign":"right","titleBaseline":"middle","titleX":53,"titleY":207}}}}
  ]},
 {"width":235,"height":159,"title":{"text":"C","dx":-48,"dy":-8},
  "resolve":{"axis":{"x":"independent","y":"independent"}},
  "layer":[
   {"data":{"values":[{"V":-60.6,"i":0},{"V":46.6,"i":12}]},"mark":{"type":"line","color":"#555","strokeWidth":1},
    "encoding":{"x":{"field":"V","type":"quantitative","scale":{"domain":[-64,70],"nice":false},"axis":{"orient":"bottom","title":"V\u2098(mV)","values":[-60,-40,-20,0,20,40,60],"labelOverlap":false,"labelFlush":false}},
     "y":{"field":"i","type":"quantitative","scale":{"domain":[0,12],"nice":false},"axis":{"orient":"left","title":"i (pA)","values":[0,2,4,6,8,10,12],"labelOverlap":false}}}},
   {"data":{"name":"ch"},"mark":{"type":"circle","color":"#000","size":55,"opacity":1},
    "encoding":{"x":{"field":"V","type":"quantitative","scale":{"domain":[-64,70],"nice":false},"axis":{"orient":"bottom","title":null,"values":[-50,-30,-10,10,30,50,70],"labels":false,"domain":false}},
     "y":{"field":"i","type":"quantitative","scale":{"domain":[0,12],"nice":false},"axis":{"orient":"left","title":null,"values":[1,3,5,7,9,11],"labels":false,"domain":false}}}}
  ]},
 {"width":500,"height":219,
  "resolve":{"scale":{"y":"independent"},"axis":{"y":"independent"}},
  "layer":[
   {"data":{"name":"tb"},"transform":[{"filter":"datum.k===6"}],"mark":{"type":"line","color":"#000","strokeWidth":0.9},
    "encoding":{"x":{"field":"t","type":"quantitative","scale":{"domain":[-172.5,1077.5],"nice":false},"axis":null},"y":{"field":"v","type":"quantitative","scale":{"domain":[-102,7.5],"nice":false},"axis":{"orient":"left","title":"+15 mV","domain":false,"ticks":false,"labels":false,"titleAngle":0,"titleAlign":"right","titleBaseline":"middle","titleX":53,"titleY":15}}}},
   {"data":{"name":"tb"},"transform":[{"filter":"datum.k===7"}],"mark":{"type":"line","color":"#000","strokeWidth":0.9},
    "encoding":{"x":{"field":"t","type":"quantitative","scale":{"domain":[-172.5,1077.5],"nice":false},"axis":null},"y":{"field":"v","type":"quantitative","scale":{"domain":[-79.5,30],"nice":false},"axis":{"orient":"left","title":"\u22125 mV","domain":false,"ticks":false,"labels":false,"titleAngle":0,"titleAlign":"right","titleBaseline":"middle","titleX":53,"titleY":60}}}},
   {"data":{"name":"tb"},"transform":[{"filter":"datum.k===8"}],"mark":{"type":"line","color":"#000","strokeWidth":0.9},
    "encoding":{"x":{"field":"t","type":"quantitative","scale":{"domain":[-172.5,1077.5],"nice":false},"axis":null},"y":{"field":"v","type":"quantitative","scale":{"domain":[-50,59.5],"nice":false},"axis":{"orient":"left","title":"\u221225 mV","domain":false,"ticks":false,"labels":false,"titleAngle":0,"titleAlign":"right","titleBaseline":"middle","titleX":53,"titleY":119}}}},
   {"data":{"name":"tb"},"transform":[{"filter":"datum.k===9"}],"mark":{"type":"line","color":"#000","strokeWidth":0.9},
    "encoding":{"x":{"field":"t","type":"quantitative","scale":{"domain":[-172.5,1077.5],"nice":false},"axis":null},"y":{"field":"v","type":"quantitative","scale":{"domain":[-30.5,79],"nice":false},"axis":{"orient":"left","title":"\u221245 mV","domain":false,"ticks":false,"labels":false,"titleAngle":0,"titleAlign":"right","titleBaseline":"middle","titleX":53,"titleY":158}}}},
   {"data":{"name":"tb"},"transform":[{"filter":"datum.k===10"}],"mark":{"type":"line","color":"#000","strokeWidth":0.9},
    "encoding":{"x":{"field":"t","type":"quantitative","scale":{"domain":[-172.5,1077.5],"nice":false},"axis":null},"y":{"field":"v","type":"quantitative","scale":{"domain":[-11,98.5],"nice":false},"axis":{"orient":"left","title":"\u221265 mV","domain":false,"ticks":false,"labels":false,"titleAngle":0,"titleAlign":"right","titleBaseline":"middle","titleX":53,"titleY":197}}}},
   {"data":{"values":[{"a":951,"b":1051,"c":-11.5,"d":-11.5},{"a":1051,"b":1051,"c":-2,"d":-11.5}]},"mark":{"type":"rule","color":"#000","strokeWidth":1.2},
    "encoding":{"x":{"field":"a","type":"quantitative","scale":{"domain":[-172.5,1077.5],"nice":false},"axis":null},"x2":{"field":"b"},"y":{"field":"c","type":"quantitative","scale":{"domain":[-30.5,79],"nice":false},"axis":null},"y2":{"field":"d"}}}
  ]},
 {"width":234,"height":187,"title":{"text":"D","dx":-48,"dy":4},
  "resolve":{"axis":{"x":"independent","y":"independent"}},
  "layer":[
   {"data":{"values":[{"z":0}]},"mark":{"type":"rule","color":"#333","strokeWidth":1},"encoding":{"x":{"field":"z","type":"quantitative","scale":{"domain":[-150,150],"nice":false},"axis":null}}},
   {"data":{"values":[{"z":0}]},"mark":{"type":"rule","color":"#333","strokeWidth":1},"encoding":{"y":{"field":"z","type":"quantitative","scale":{"domain":[-0.1,1.3],"nice":false},"axis":null}}},
   {"data":{"name":"np"},"mark":{"type":"line","color":"#666","strokeWidth":1},
    "encoding":{"x":{"field":"V","type":"quantitative","scale":{"domain":[-150,150],"nice":false},"axis":{"orient":"bottom","title":"V\u2098 (mV)","values":[-150,-100,-50,0,50,100,150],"labelOverlap":false,"labelFlush":false}},
     "y":{"field":"P","type":"quantitative","scale":{"domain":[-0.1,1.3],"nice":false},"axis":{"orient":"left","title":"NP\u2092","values":[0,0.2,0.4,0.6,0.8,1.0,1.2],"format":".1f","labelOverlap":false}}}},
   {"data":{"name":"np"},"mark":{"type":"circle","color":"#000","size":45,"opacity":1},
    "encoding":{"x":{"field":"V","type":"quantitative","scale":{"domain":[-150,150],"nice":false},"axis":{"orient":"bottom","title":null,"values":[-125,-75,-25,25,75,125],"labels":false,"domain":false}},
     "y":{"field":"P","type":"quantitative","scale":{"domain":[-0.1,1.3],"nice":false},"axis":{"orient":"left","title":null,"values":[-0.1,0.1,0.3,0.5,0.7,0.9,1.1,1.3],"labels":false,"domain":false}}}}
  ]}
 ],"columns":2,"align":"each","spacing":{"row":0,"column":56},"bounds":"flush"}
]
}
